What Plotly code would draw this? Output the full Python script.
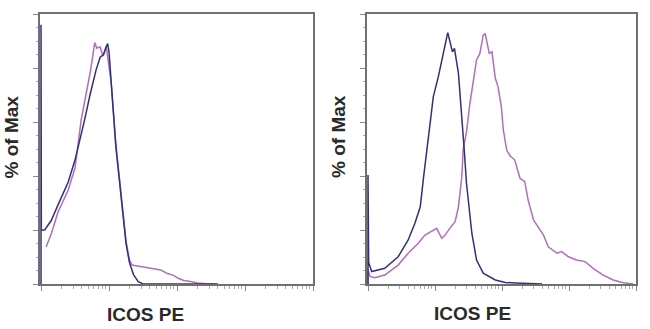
import plotly.graph_objects as go

# ---- data (x in decades of fluorescence, y in % of Max) ----
left_blue_dec = [0, 0, 0.005, 0.054, 0.15, 0.25, 0.33, 0.40, 0.50, 0.57, 0.64, 0.72, 0.81, 0.87, 0.92, 0.96, 0.98,
                 1.0, 1.03, 1.07, 1.10, 1.15, 1.20, 1.25, 1.30, 1.36, 1.43, 1.50, 2.60]
left_blue_pct = [0, 96, 20, 20, 23.5, 29.3, 33.5, 37.8, 45.9, 53, 60.7, 70, 79.3, 84, 85, 88, 89,
                 86, 75, 61, 51, 39, 27, 15, 8, 3.5, 0.9, 0, 0]

left_mag_dec = [0.074, 0.15, 0.25, 0.33, 0.40, 0.50, 0.59, 0.66, 0.73, 0.79, 0.82, 0.87, 0.91, 0.96, 0.99,
                1.03, 1.07, 1.10, 1.15, 1.20, 1.25, 1.30, 1.34, 1.40, 1.50, 1.60, 1.70,
                1.76, 1.85, 1.95, 2.01, 2.10, 2.20, 2.30, 2.45, 2.55]
left_mag_pct = [13.7, 18.5, 26.7, 31, 34.8, 43, 60.7, 70, 79.3, 89.4, 87.4, 87.8, 84.4, 87.8, 83,
                75, 62, 52, 40, 28, 16, 9, 7.0, 6.8, 6.3, 5.9, 5.4,
                5.2, 4.0, 3.2, 2.2, 1.3, 0.9, 0.4, 0.1, 0]

right_blue_dec = [0, 0, 0.01, 0.055, 0.25, 0.45, 0.60, 0.70, 0.78, 0.83, 0.875, 0.925, 0.975,
                  1.05, 1.124, 1.19, 1.26, 1.29, 1.35, 1.40, 1.44, 1.47, 1.55, 1.62, 1.72,
                  1.90, 2.05, 2.20, 2.46, 2.60]
right_blue_pct = [0, 40.4, 8, 4.6, 5.8, 10.1, 16.3, 22.5, 28.6, 39.7, 49.6, 60.7, 69.4,
                  76.8, 85.4, 93.1, 86.0, 87.3, 78.0, 63.2, 48.4, 37.3, 18.8, 8.9, 4.0,
                  1.5, 0.6, 0.4, 0.2, 0]

right_mag_dec = [0, 0, 0.03, 0.10, 0.25, 0.45, 0.60, 0.75, 0.85, 0.95, 1.025, 1.10, 1.15,
                 1.22, 1.30, 1.35, 1.40, 1.42, 1.47, 1.52, 1.57, 1.62, 1.67, 1.72, 1.75,
                 1.81, 1.85, 1.90, 1.94, 1.99, 2.02, 2.07, 2.12, 2.19, 2.27, 2.34, 2.39,
                 2.47, 2.62, 2.69, 2.82, 2.89, 2.99, 3.11, 3.24, 3.36, 3.51, 3.66, 3.81, 3.96]
right_mag_pct = [0, 5.5, 2.8, 2.3, 3.3, 7.0, 11.4, 15.1, 18.1, 19.4, 20.6, 16.9, 18.1,
                 20.6, 23.1, 28.6, 39.7, 49.6, 56.3, 66.7, 75.6, 83.0, 85.4, 92.2, 92.6,
                 85.4, 86.0, 76.2, 73.1, 65.7, 57.0, 49.6, 47.5, 45.9, 39.1, 37.9, 31.1,
                 23.7, 18.1, 13.8, 11.4, 12.0, 10.1, 8.9, 8.3, 5.8, 3.3, 1.5, 0.5, 0]

x_title = "ICOS PE"
y_title = "% of Max"

BLUE = "#33307a"
MAG = "#b06ebd"

fig = go.Figure()

def to_lin(decs):
    return [10 ** d for d in decs]

fig.add_trace(go.Scatter(x=to_lin(left_mag_dec), y=left_mag_pct, mode="lines",
                         line=dict(color=MAG, width=1.5), xaxis="x", yaxis="y", showlegend=False))
fig.add_trace(go.Scatter(x=to_lin(left_blue_dec), y=left_blue_pct, mode="lines",
                         line=dict(color=BLUE, width=1.5), xaxis="x", yaxis="y", showlegend=False))
fig.add_trace(go.Scatter(x=to_lin(right_mag_dec), y=right_mag_pct, mode="lines",
                         line=dict(color=MAG, width=1.5), xaxis="x2", yaxis="y2", showlegend=False))
fig.add_trace(go.Scatter(x=to_lin(right_blue_dec), y=right_blue_pct, mode="lines",
                         line=dict(color=BLUE, width=1.5), xaxis="x2", yaxis="y2", showlegend=False))

W, H = 650, 329
ydom = [45 / H, 315 / H]

def xax(domain, anchor):
    return dict(type="log", domain=domain, anchor=anchor, range=[-0.015, 4],
                showgrid=False, zeroline=False, showticklabels=False,
                showline=True, linecolor="#707070", linewidth=1.5, mirror=True,
                ticks="outside", ticklen=5, tickcolor="#888", dtick=1,
                minor=dict(ticks="outside", ticklen=3, tickcolor="#aaa", dtick="D1"))

def yax(anchor):
    return dict(domain=ydom, anchor=anchor, range=[0, 100],
                showgrid=False, zeroline=False, showticklabels=False,
                showline=True, linecolor="#707070", linewidth=1.5, mirror=True,
                ticks="outside", ticklen=5, tickcolor="#888", dtick=20,
                minor=dict(ticks="outside", ticklen=2, tickcolor="#aaa", dtick=5))

fig.update_layout(
    width=W, height=H, margin=dict(l=0, r=0, t=0, b=0),
    paper_bgcolor="white", plot_bgcolor="white",
    xaxis=xax([40 / W, 313 / W], "y"),
    yaxis=yax("x"),
    xaxis2=xax([367 / W, 636 / W], "y2"),
    yaxis2=yax("x2"),
)

font = dict(family="Liberation Sans, Arial, sans-serif", size=19, color="#2a2a2a", weight="bold")
for cx, cy in [(145.5, 314), (472, 313)]:
    fig.add_annotation(text=x_title, x=cx / W, y=1 - cy / H, xref="paper", yref="paper",
                       showarrow=False, font=font, xanchor="center", yanchor="middle")
for cx, cy in [(11.5, 137), (339, 137)]:
    fig.add_annotation(text=y_title, x=cx / W, y=1 - cy / H, xref="paper", yref="paper",
                       showarrow=False, font=font, textangle=-90, xanchor="center", yanchor="middle")

fig.write_html("out.html")
